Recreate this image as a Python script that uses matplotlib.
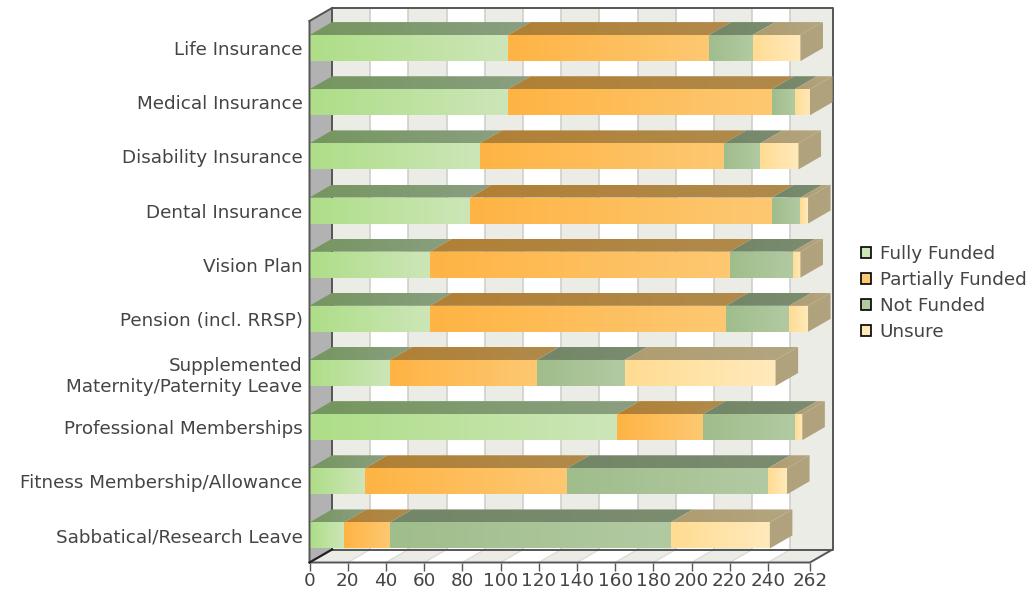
import numpy as np
import matplotlib
matplotlib.use('Agg')
import matplotlib.pyplot as plt
from matplotlib.patches import Polygon, Patch
from matplotlib.colors import to_rgb

categories = ['Life Insurance', 'Medical Insurance', 'Disability Insurance',
              'Dental Insurance', 'Vision Plan', 'Pension (incl. RRSP)',
              'Supplemented\nMaternity/Paternity Leave', 'Professional Memberships',
              'Fitness Membership/Allowance', 'Sabbatical/Research Leave']
fully = [104, 104, 89, 84, 63, 63, 42, 161, 29, 18]
partial = [105, 138, 128, 158, 157, 155, 77, 45, 106, 24]
not_funded = [23, 12, 19, 15, 33, 33, 46, 48, 105, 147]
unsure = [25, 8, 20, 4, 4, 10, 79, 4, 10, 52]
x_ticks = [0, 20, 40, 60, 80, 100, 120, 140, 160, 180, 200, 220, 240, 262]

series = [('Fully Funded', fully, '#aede88', '#cde6b8', '#75965f', '#8a9f80'),
          ('Partially Funded', partial, '#ffb444', '#fdc872', '#b08035', '#b08a4c'),
          ('Not Funded', not_funded, '#a0bd8c', '#b2caa2', '#728767', '#7c8c70'),
          ('Unsure', unsure, '#ffdc92', '#ffeabc', '#b09c70', '#b3a680')]

# depth of the fake 3d box, in data units
DX = 11.8
DY = 0.24
BAR_H = 0.48
XMAX = 262

fig = plt.figure(figsize=(10.31, 5.89), dpi=100)
ax = fig.add_axes([309.5/1031, 1 - 562.5/589, 523/1031, 554.5/589])
ax.set_xlim(0, XMAX + DX)
ax.set_ylim(10, -DY)
for s in ax.spines.values():
    s.set_visible(False)


def gradient(x0, x1, y0, y1, c0, c1, clip=None, z=3):
    row = np.linspace(to_rgb(c0), to_rgb(c1), 64)[np.newaxis, :, :]
    im = ax.imshow(row, extent=[x0, x1, y1, y0], aspect='auto', zorder=z,
                   interpolation='bilinear')
    if clip is not None:
        ax.add_patch(clip)
        im.set_clip_path(clip)
    return im


# left wall
ax.add_patch(Polygon([(0, 0), (DX, -DY), (DX, 10 - DY), (0, 10)], fc='#b2b2b2', ec='none', zorder=1))

# back wall and floor bands
edges = x_ticks
for i in range(len(edges) - 1):
    col = '#ebece6' if i % 2 == 0 else '#ffffff'
    a, b = edges[i], edges[i + 1]
    ax.fill_between([a + DX, b + DX], -DY, 10 - DY, color=col, lw=0, zorder=1)
    ax.add_patch(Polygon([(a, 10), (b, 10), (b + DX, 10 - DY), (a + DX, 10 - DY)], fc=col, ec='none', zorder=1))
for t in edges[1:-1]:
    ax.plot([t + DX, t + DX], [-DY, 10 - DY], color='#cfcfcb', lw=1.2, zorder=1.5)
    ax.plot([t, t + DX], [10, 10 - DY], color='#dcdcd8', lw=1, zorder=1.5)

# bars
for i in range(len(categories)):
    c = i + 0.5
    top = c - BAR_H / 2
    bot = c + BAR_H / 2
    left = 0
    for name, vals, c0, c1, t0, t1 in series:
        right = left + vals[i]
        gradient(left, right, top, bot, c0, c1, z=3)
        face = Polygon([(left, top), (right, top), (right + DX, top - DY), (left + DX, top - DY)],
                       fc='none', ec='none', transform=ax.transData, zorder=3)
        gradient(left, right + DX, top - DY, top, t0, t1, clip=face, z=3)
        left = right
    ax.add_patch(Polygon([(left, top), (left + DX, top - DY), (left + DX, bot - DY), (left, bot)],
                         fc='#b0a27d', ec='none', zorder=3))

# frame
frame = '#555555'
ax.plot([DX, DX, XMAX + DX, XMAX + DX, DX], [10 - DY, -DY, -DY, 10 - DY, 10 - DY],
        color=frame, lw=1.4, zorder=2, clip_on=False)
ax.plot([0, 0, XMAX, XMAX + DX], [0, 10, 10, 10 - DY], color=frame, lw=1.4, zorder=4, clip_on=False)
ax.plot([0, DX], [0, -DY], color=frame, lw=1.4, zorder=2, clip_on=False)
ax.plot([0, DX], [10, 10 - DY], color='#222222', lw=1.6, zorder=4, clip_on=False)

ax.set_xticks(x_ticks)
ax.set_yticks(np.arange(len(categories)) + 0.5)
ax.set_yticklabels(categories, ma='right', linespacing=1.2)
ax.tick_params(axis='y', length=0, pad=5, labelsize=13.2, labelcolor='#444444')
ax.tick_params(axis='x', length=6, width=1, color='#555555', pad=1, labelsize=13.2, labelcolor='#444444')
ax.set_xlim(0, XMAX + DX)
ax.set_ylim(10, -DY)

handles = [Patch(fc=s[3], ec='black', lw=1.2, label=s[0]) for s in series]
fig.legend(handles=handles, loc='center left', bbox_to_anchor=(855/1031, 1 - 293/589), frameon=False,
           fontsize=13.2, labelcolor='#444444', handlelength=0.55, handleheight=0.55,
           handletextpad=0.5, labelspacing=0.43, borderpad=0, borderaxespad=0.3)

fig.savefig('out.png', dpi=100)
